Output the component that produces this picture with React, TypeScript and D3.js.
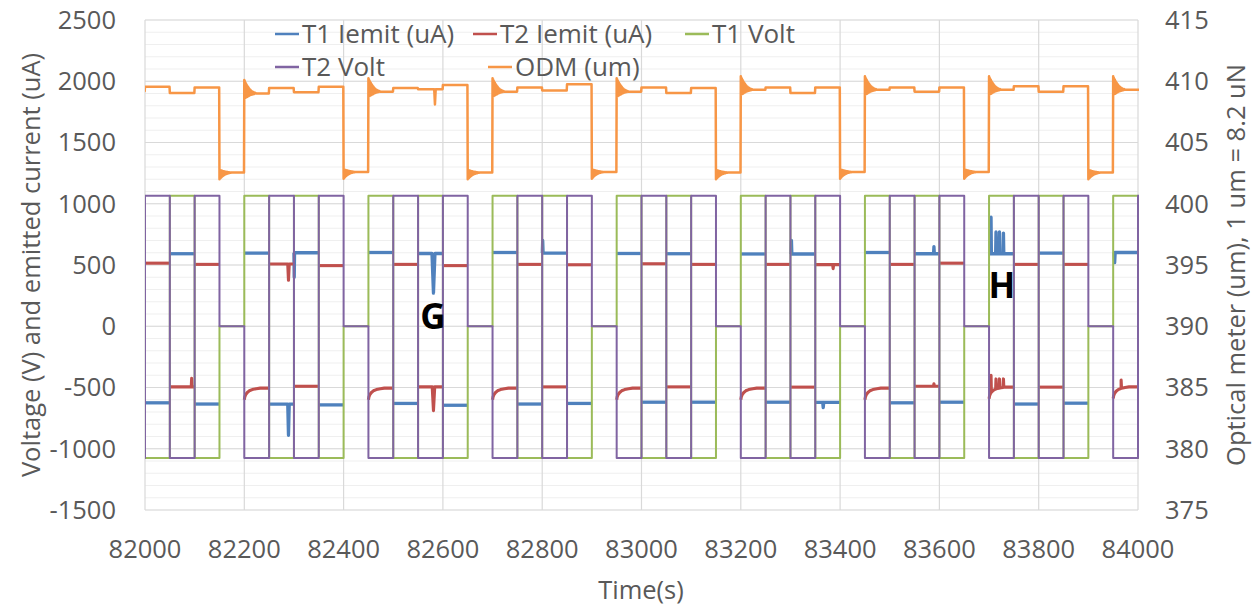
import React from "react";
import * as d3 from "d3";

const W = 1254;
const H = 607;
const PL = 145;
const PR = 1138;
const PT = 20;
const PB = 510;

// ---- axes ----
const xTicks = [82000, 82200, 82400, 82600, 82800, 83000, 83200, 83400, 83600, 83800, 84000];
const yTicks = [-1500, -1000, -500, 0, 500, 1000, 1500, 2000, 2500];
const yRTicks = [375, 380, 385, 390, 395, 400, 405, 410, 415];
const yMinor = d3.range(-1500, 2501, 100);

// ---- segments (50 s each) ----
const segStart = [
  81950, 82000, 82050, 82100, 82150, 82200, 82250, 82300, 82350, 82400,
  82450, 82500, 82550, 82600, 82650, 82700, 82750, 82800, 82850, 82900,
  82950, 83000, 83050, 83100, 83150, 83200, 83250, 83300, 83350, 83400,
  83450, 83500, 83550, 83600, 83650, 83700, 83750, 83800, 83850, 83900,
  83950, 84000, 84050,
];
// which thruster is positive in each segment ("0" = both off)
const segMode = [
  "T1", "T2", "T1", "T2", "0", "T1", "T2", "T1", "T2", "0",
  "T1", "T2", "T1", "T2", "0", "T1", "T2", "T1", "T2", "0",
  "T1", "T2", "T1", "T2", "0", "T1", "T2", "T1", "T2", "0",
  "T1", "T2", "T1", "T2", "0", "T1", "T2", "T1", "T2", "0",
  "T1", "T2",
];
const VOLT_POS = 1065;
const VOLT_NEG = -1075;

// emitted currents per segment (uA)
const t1Iemit = [
  595, -625, 592, -635, null, 597, -635, 600, -642, null,
  602, -630, 594, -645, null, 602, -635, 597, -630, null,
  594, -620, 592, -620, null, 590, -620, 590, -622, null,
  602, -625, 592, -620, null, 592, -635, 597, -628, null,
  602, -620,
];
const t2Iemit = [
  -495, 515, -495, 505, null, -505, 508, -490, 495, null,
  -505, 505, -495, 495, null, -505, 505, -495, 502, null,
  -505, 510, -495, 505, null, -505, 505, -497, 503, null,
  -505, 505, -490, 515, null, -497, 505, -497, 505, null,
  -495, 510,
];
// ODM level per segment (um)
const odmLevel = [
  409.2, 409.55, 409.05, 409.5, 402.55, 409.0, 409.45, 409.1, 409.55, 402.6,
  409.15, 409.45, 409.35, 409.7, 402.55, 409.15, 409.5, 409.25, 409.75, 402.6,
  409.15, 409.5, 409.05, 409.45, 402.55, 409.3, 409.5, 409.05, 409.5, 402.6,
  409.3, 409.5, 409.15, 409.5, 402.6, 409.3, 409.6, 409.15, 409.6, 402.55,
  409.3, 409.3,
];

// T2 current recovery after an off period: [seconds, offset uA]
const redRecovery = [[0, -95], [1, -72], [3, -52], [6, -36], [10, -22], [16, -12], [24, -5], [32, 0]];
// ODM ringing after a step: [seconds, relative amplitude]
const ringShape = [
  [0, 1], [0.6, -0.35], [1.2, 0.9], [1.8, -0.33], [2.4, 0.8], [3, -0.3], [3.6, 0.72], [4.2, -0.28],
  [4.8, 0.64], [5.4, -0.25], [6, 0.56], [6.6, -0.22], [7.2, 0.5], [7.8, -0.2], [8.4, 0.44],
  [9, -0.18], [9.6, 0.38], [10.2, -0.15], [10.8, 0.32], [11.4, -0.13], [12, 0.27], [12.8, -0.11],
  [13.6, 0.22], [14.4, -0.09], [15.2, 0.17], [16, -0.07], [17, 0.13], [18, -0.05], [19, 0.09],
  [20.5, -0.03], [22, 0.05], [24, 0],
];
const RING_UP = 1.1;
const RING_DOWN = -0.55;

// spikes: [time, peak value, half width s]
const t1Spikes = [
  [82289, -890, 1.5], [82300.6, 400, 0.6], [82581, 270, 3], [82801, 700, 0.8], [83302, 700, 0.8],
  [83366, -665, 1], [83589, 650, 0.8], [83704, 890, 0.7], [83714, 770, 0.7], [83721, 770, 0.7],
  [83729, 760, 0.7], [83953, 520, 1],
];
const t2Spikes = [
  [82094, -425, 0.8], [82289, 375, 1.5], [82581, -690, 2.5], [83386, 470, 1], [83589, -470, 1],
  [83704, -400, 0.7], [83714, -430, 0.7], [83721, -430, 0.7], [83729, -430, 0.7], [83966, -440, 0.8],
];
const odmSpikes = [[82584, 408.1, 1.5]];

// ---- legend ----
const legendItems = [
  { label: "T1 Iemit (uA)", color: "#4F81BD", x: 275, y: 34 },
  { label: "T2 Iemit (uA)", color: "#C0504D", x: 473, y: 34 },
  { label: "T1 Volt", color: "#9BBB59", x: 685, y: 34 },
  { label: "T2 Volt", color: "#8064A2", x: 275, y: 67 },
  { label: "ODM (um)", color: "#F79646", x: 488, y: 67 },
];

const x = d3.scaleLinear().domain([82000, 84000]).range([PL, PR]);
const y = d3.scaleLinear().domain([-1500, 2500]).range([PB, PT]);
const yR = d3.scaleLinear().domain([375, 415]).range([PB, PT]);

type Pt = [number, number];

function voltSeries(which: string): Pt[] {
  const pts: Pt[] = [];
  segMode.forEach((m, i) => {
    const v = m === "0" ? 0 : m === which ? VOLT_POS : VOLT_NEG;
    pts.push([segStart[i], v]);
  });
  pts.push([segStart[segMode.length], pts[pts.length - 1][1]]);
  return pts;
}

function currentSegments(levels: (number | null)[], spikes: number[][], recovery: number[][] | null): Pt[][] {
  const out: Pt[][] = [];
  const rec = recovery
    ? d3.scaleLinear().domain(recovery.map((d) => d[0])).range(recovery.map((d) => d[1])).clamp(true)
    : null;
  levels.forEach((L, i) => {
    if (L === null) return;
    const t0 = segStart[i];
    const t1 = segStart[i + 1];
    const afterOff = i > 0 && segMode[i - 1] === "0";
    const base = (t: number) => L + (rec && afterOff ? rec(t - t0) : 0);
    const pts: Pt[] = [];
    if (rec && afterOff && recovery) {
      recovery.forEach((d) => pts.push([t0 + d[0], L + d[1]]));
    } else {
      pts.push([t0, L]);
    }
    spikes
      .filter((s) => s[0] >= t0 && s[0] < t1)
      .forEach(([ts, peak, hw]) => {
        pts.push([ts - hw, base(ts - hw)]);
        pts.push([ts, peak]);
        pts.push([ts + hw, base(ts + hw)]);
      });
    pts.push([t1 - 0.3, L]);
    pts.sort((a, b) => a[0] - b[0]);
    out.push(pts);
  });
  return out;
}

function odmSeries(): Pt[] {
  const pts: Pt[] = [];
  segMode.forEach((m, i) => {
    const L = odmLevel[i];
    const t0 = segStart[i];
    const t1 = segStart[i + 1];
    const prev = i > 0 ? segMode[i - 1] : m;
    const segPts: Pt[] = [];
    let amp = 0;
    if (m === "0" && prev !== "0") amp = RING_DOWN;
    if (m !== "0" && prev === "0") amp = RING_UP;
    if (amp !== 0) {
      ringShape.forEach(([s, r]) => segPts.push([t0 + s, L + amp * r]));
    } else {
      segPts.push([t0, L]);
    }
    odmSpikes
      .filter((s) => s[0] >= t0 && s[0] < t1)
      .forEach(([ts, peak, hw]) => {
        segPts.push([ts - hw, L]);
        segPts.push([ts, peak]);
        segPts.push([ts + hw, L]);
      });
    segPts.push([t1 - 0.6, L]);
    segPts.sort((a, b) => a[0] - b[0]);
    pts.push(...segPts);
  });
  return pts;
}

const lineL = d3.line<Pt>().x((d) => x(d[0])).y((d) => y(d[1]));
const stepL = d3.line<Pt>().x((d) => x(d[0])).y((d) => y(d[1])).curve(d3.curveStepAfter);
const lineR = d3.line<Pt>().x((d) => x(d[0])).y((d) => yR(d[1]));

const FONT = "'Open Sans', 'DejaVu Sans', sans-serif";
const TXT = "#595959";
const FS = 25.5;
const LFS = 26;

export default function App() {
  const t1V = voltSeries("T1");
  const t2V = voltSeries("T2");
  const blue = currentSegments(t1Iemit, t1Spikes, null);
  const red = currentSegments(t2Iemit, t2Spikes, redRecovery);
  const odm = odmSeries();

  return (
    <svg
      width={W}
      height={H}
      viewBox={`0 0 ${W} ${H}`}
      style={{ position: "absolute", left: 0, top: 0, background: "#fff" }}
      fontFamily={FONT}
    >
      <defs>
        <clipPath id="plotclip">
          <rect x={PL} y={PT - 2} width={PR - PL + 1} height={PB - PT + 4} />
        </clipPath>
      </defs>
      <rect x={0} y={0} width={W} height={H} fill="#fff" />
      {/* minor gridlines */}
      {yMinor.map((v) => (
        <line key={"m" + v} x1={PL} x2={PR} y1={y(v)} y2={y(v)} stroke="#efefef" strokeWidth={1} />
      ))}
      {/* major gridlines */}
      {yTicks.map((v) => (
        <line key={"g" + v} x1={PL} x2={PR} y1={y(v)} y2={y(v)} stroke="#d9d9d9" strokeWidth={1.2} />
      ))}
      {xTicks.map((v) => (
        <line key={"gx" + v} x1={x(v)} x2={x(v)} y1={PT} y2={PB} stroke="#d9d9d9" strokeWidth={1.2} />
      ))}

      <g clipPath="url(#plotclip)" fill="none" strokeLinejoin="round">
        {blue.map((s, i) => (
          <path key={"b" + i} d={lineL(s) || ""} stroke="#4F81BD" strokeWidth={3.3} />
        ))}
        {red.map((s, i) => (
          <path key={"r" + i} d={lineL(s) || ""} stroke="#C0504D" strokeWidth={3.1} />
        ))}
        <path d={stepL(t1V) || ""} stroke="#9BBB59" strokeWidth={2} />
        <path d={stepL(t2V) || ""} stroke="#8064A2" strokeWidth={2} />
        <path d={lineR(odm) || ""} stroke="#F79646" strokeWidth={2.5} />
      </g>

      {/* left tick labels */}
      {yTicks.map((v) => (
        <text key={"yl" + v} x={116} y={y(v)} dy="0.35em" textAnchor="end" fontSize={FS} fill={TXT}>
          {v}
        </text>
      ))}
      {/* right tick labels */}
      {yRTicks.map((v) => (
        <text key={"yr" + v} x={1165} y={yR(v)} dy="0.35em" textAnchor="start" fontSize={FS} fill={TXT}>
          {v}
        </text>
      ))}
      {/* x tick labels */}
      {xTicks.map((v) => (
        <text key={"xl" + v} x={x(v)} y={549} dy="0.35em" textAnchor="middle" fontSize={FS} fill={TXT}>
          {v}
        </text>
      ))}

      {/* axis titles */}
      <text x={641} y={590} dy="0.35em" textAnchor="middle" fontSize={FS} fill={TXT}>
        Time(s)
      </text>
      <text
        transform={`translate(31,265) rotate(-90)`}
        textAnchor="middle"
        dy="0.35em"
        fontSize={FS}
        fill={TXT}
      >
        Voltage (V) and emitted current (uA)
      </text>
      <text
        transform={`translate(1236,265) rotate(-90)`}
        textAnchor="middle"
        dy="0.35em"
        fontSize={FS}
        fill={TXT}
      >
        Optical meter (um), 1 um = 8.2 uN
      </text>

      {/* legend */}
      {legendItems.map((it) => (
        <g key={it.label}>
          <line x1={it.x} x2={it.x + 24} y1={it.y} y2={it.y} stroke={it.color} strokeWidth={2.5} />
          <text x={it.x + 27} y={it.y} dy="0.35em" fontSize={LFS} fill={TXT}>
            {it.label}
          </text>
        </g>
      ))}

      {/* annotations */}
      <text x={433} y={317} dy="0.35em" textAnchor="middle" fontSize={35} fontWeight={700} fill="#000">
        G
      </text>
      <text x={1002} y={286} dy="0.35em" textAnchor="middle" fontSize={35} fontWeight={700} fill="#000">
        H
      </text>
    </svg>
  );
}
